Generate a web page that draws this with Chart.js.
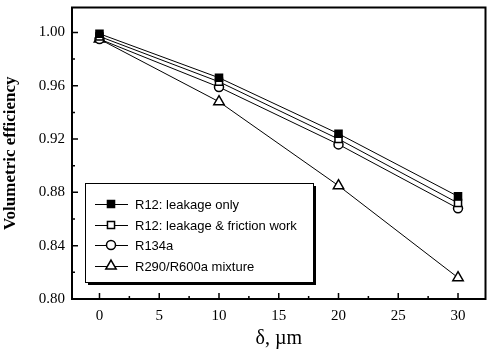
<!DOCTYPE html>
<html><head><meta charset="utf-8">
<script src="https://cdn.jsdelivr.net/npm/chart.js@4/dist/chart.umd.min.js"></script>
<style>html,body{margin:0;padding:0;background:#fff}#wrap{width:493px;height:361px}</style>
</head><body><div id="wrap"><canvas id="c"></canvas></div>
<script>
const xValues = [0, 10, 20, 30];
const seriesLabels = ["R12: leakage only", "R12: leakage & friction work", "R134a", "R290/R600a mixture"];
const r12Leak = [0.999, 0.966, 0.924, 0.877];
const r12Fric = [0.997, 0.963, 0.920, 0.872];
const r134a = [0.995, 0.959, 0.916, 0.868];
const r290 = [0.995, 0.948, 0.885, 0.816];
const yTicks = [0.80, 0.84, 0.88, 0.92, 0.96, 1.00];
const yMinor = [0.82, 0.86, 0.90, 0.94, 0.98];
const xTicks = [0, 5, 10, 15, 20, 25, 30];
const xMinor = [2.5, 7.5, 12.5, 17.5, 22.5, 27.5];

const styles = [
  {pointStyle:'rect', bg:'#000', r:5},
  {pointStyle:'rect', bg:'#fff', r:5},
  {pointStyle:'circle', bg:'#fff', r:4.5},
  {pointStyle:'triangle', bg:'#fff', r:6}
];
const allData = [r12Leak, r12Fric, r134a, r290];
const datasets = allData.map((d,i)=>({
  label: seriesLabels[i],
  data: d.map((v,j)=>({x:xValues[j], y:v})),
  borderColor:'#000', borderWidth:1,
  pointStyle: styles[i].pointStyle, pointRadius: styles[i].r,
  pointBackgroundColor: styles[i].bg, pointBorderColor:'#000', pointBorderWidth:1.5,
  fill:false, tension:0
}));

const framePlugin = {
  id:'frame',
  afterDraw(chart){
    const ctx = chart.ctx, a = chart.chartArea, xs = chart.scales.x, ys = chart.scales.y;
    ctx.save();
    ctx.strokeStyle='#000';
    ctx.lineWidth=2;
    ctx.strokeRect(a.left, a.top, a.right-a.left, a.bottom-a.top);
    ctx.lineWidth=1.5;
    ctx.beginPath();
    yTicks.forEach(v=>{const y=ys.getPixelForValue(v); ctx.moveTo(a.left,y); ctx.lineTo(a.left+6,y);});
    yMinor.forEach(v=>{const y=ys.getPixelForValue(v); ctx.moveTo(a.left,y); ctx.lineTo(a.left+3,y);});
    xTicks.forEach(v=>{const x=xs.getPixelForValue(v); ctx.moveTo(x,a.bottom); ctx.lineTo(x,a.bottom-6);});
    xMinor.forEach(v=>{const x=xs.getPixelForValue(v); ctx.moveTo(x,a.bottom); ctx.lineTo(x,a.bottom-3);});
    ctx.stroke();
    // legend
    const L=85, T=183, W=228, H=99;
    ctx.fillStyle='#000';
    ctx.fillRect(L+3, T+3, W, H);
    ctx.fillStyle='#fff';
    ctx.fillRect(L, T, W, H);
    ctx.lineWidth=1;
    ctx.strokeRect(L+0.5, T+0.5, W, H);
    const rows=[204,225,245,266];
    ctx.font='13px "Liberation Sans", Arial, sans-serif';
    ctx.textBaseline='middle';
    chart.data.datasets.forEach((ds,i)=>{
      const y=rows[i];
      ctx.strokeStyle='#000'; ctx.lineWidth=1;
      ctx.beginPath(); ctx.moveTo(95,y+0.5); ctx.lineTo(128,y+0.5); ctx.stroke();
      ctx.save();
      ctx.lineWidth=1.5;
      ctx.fillStyle=ds.pointBackgroundColor; ctx.strokeStyle='#000';
      Chart.helpers.drawPoint(ctx,{pointStyle:ds.pointStyle, radius:ds.pointRadius, borderWidth:1.5, rotation:0}, 111, y);
      ctx.restore();
      ctx.fillStyle='#000';
      ctx.fillText(ds.label, 135, y+1);
    });
    ctx.restore();
  }
};

new Chart(document.getElementById('c'), {
  type:'line',
  data:{datasets},
  plugins:[framePlugin],
  options:{
    responsive:true, maintainAspectRatio:false, animation:false,
    layout:{padding:{left:0, right:3, top:5, bottom:10}},
    plugins:{legend:{display:false}, tooltip:{enabled:false}},
    scales:{
      x:{type:'linear', min:-2.3, max:32.3,
        afterBuildTicks(s){ s.ticks = xTicks.map(v=>({value:v})); },
        afterFit(s){ s.height = 52; },
        grid:{display:false, drawTicks:false}, border:{display:false},
        ticks:{color:'#000', padding:8, maxRotation:0, font:{family:'"Liberation Serif", "Times New Roman", serif', size:15}},
        title:{display:true, text:'δ, µm', color:'#000', padding:{top:2,bottom:0}, font:{family:'"Liberation Serif", "Times New Roman", serif', size:20}}
      },
      y:{type:'linear', min:0.80, max:1.0187,
        afterBuildTicks(s){ s.ticks = yTicks.map(v=>({value:v})); },
        afterFit(s){ s.width = 72; s.paddingTop = 0; s.paddingBottom = 0; },
        grid:{display:false, drawTicks:false}, border:{display:false},
        ticks:{color:'#000', padding:7, callback:v=>v.toFixed(2), font:{family:'"Liberation Serif", "Times New Roman", serif', size:15}},
        title:{display:true, text:'Volumetric efficiency', color:'#000', padding:{top:0,bottom:4}, font:{family:'"Liberation Serif", "Times New Roman", serif', size:17, weight:'bold'}}
      }
    }
  }
});
</script></body></html>
